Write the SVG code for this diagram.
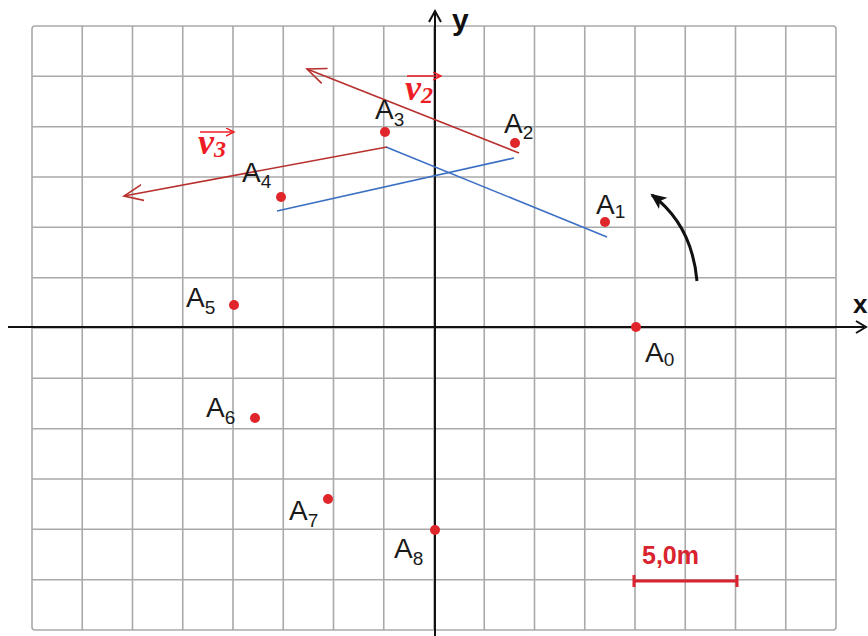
<svg xmlns="http://www.w3.org/2000/svg" width="868" height="636" viewBox="0 0 868 636">
<style>
.grid{stroke:#a9a9a9;stroke-width:1.6;fill:none}
.axis{stroke:#111;stroke-width:2;fill:none}
.lbl{font-family:"Liberation Sans","DejaVu Sans",sans-serif;font-size:28px;fill:#1a1a1a}
.sub{font-size:19px}
.dot{fill:#e0262a}
.vec{stroke:#b8302e;stroke-width:1.6;fill:none}
.blue{stroke:#3a6fc4;stroke-width:1.6;fill:none}
.vl{font-family:"Liberation Serif","DejaVu Serif",serif;font-style:italic;font-weight:bold;fill:#ee1c24}
</style>
<defs>
<marker id="open" markerWidth="24" markerHeight="24" refX="19" refY="10" orient="auto" markerUnits="userSpaceOnUse">
<path d="M0,2 L19,10 L0,18" fill="none" stroke="#b8302e" stroke-width="1.6"/>
</marker>
<marker id="blk" markerWidth="20" markerHeight="20" refX="14" refY="8" orient="auto" markerUnits="userSpaceOnUse">
<path d="M0,1 L16,8 L0,15 L4,8 Z" fill="#111"/>
</marker>
<marker id="small" markerWidth="10" markerHeight="10" refX="8" refY="4" orient="auto" markerUnits="userSpaceOnUse">
<path d="M0,0 L8,4 L0,8" fill="none" stroke="#ee1c24" stroke-width="1.4"/>
</marker>
</defs>
<rect width="868" height="636" fill="#fff"/>
<g id="grid" class="grid">
<rect x="32" y="26" width="804" height="604" rx="3"/>
<path d="M82.25,26V630M132.5,26V630M182.75,26V630M233,26V630M283.25,26V630M333.5,26V630M383.75,26V630M434,26V630M484.25,26V630M534.5,26V630M584.75,26V630M635,26V630M685.25,26V630M735.5,26V630M785.75,26V630"/>
<path d="M32,76.3H836M32,126.7H836M32,177H836M32,227.3H836M32,277.7H836M32,328H836M32,378.3H836M32,428.7H836M32,479H836M32,529.3H836M32,579.7H836"/>
</g>
<g id="axes">
<line class="axis" x1="8" y1="327" x2="864" y2="327"/>
<path d="M856,321 L866,327 L856,333" fill="none" stroke="#111" stroke-width="2"/>
<line class="axis" x1="435" y1="636" x2="435" y2="13"/>
<path d="M429,22 L435,11 L441,22" fill="none" stroke="#111" stroke-width="2"/>
<text x="452" y="30" style="font-family:'Liberation Sans',sans-serif;font-size:30px;font-weight:bold" fill="#111">y</text>
<text x="853" y="313" style="font-family:'Liberation Sans',sans-serif;font-size:26px;font-weight:bold" fill="#111">x</text>
</g>
<g id="connectors">
<line class="blue" x1="386" y1="147" x2="607" y2="237"/>
<line class="blue" x1="277" y1="211" x2="514" y2="158"/>
<line class="vec" x1="519" y1="153" x2="307" y2="69" marker-end="url(#open)"/>
<line class="vec" x1="387" y1="147" x2="124" y2="196" marker-end="url(#open)"/>
<path d="M697,281 Q692,225 652,195" fill="none" stroke="#111" stroke-width="3" marker-end="url(#blk)"/>
</g>
<g id="A0"><circle class="dot" cx="636" cy="327" r="5"/><text class="lbl" x="645" y="362">A<tspan class="sub" dy="4">0</tspan></text></g>
<g id="A1"><circle class="dot" cx="605" cy="222" r="5"/><text class="lbl" x="596" y="214">A<tspan class="sub" dy="4">1</tspan></text></g>
<g id="A2"><circle class="dot" cx="515" cy="143" r="5"/><text class="lbl" x="504" y="133">A<tspan class="sub" dy="6">2</tspan></text></g>
<g id="A3"><circle class="dot" cx="385" cy="132" r="5"/><text class="lbl" x="375" y="119">A<tspan class="sub" dy="7">3</tspan></text></g>
<g id="A4"><circle class="dot" cx="281" cy="197" r="5"/><text class="lbl" x="242" y="182">A<tspan class="sub" dy="6">4</tspan></text></g>
<g id="A5"><circle class="dot" cx="234" cy="305" r="5"/><text class="lbl" x="186" y="307">A<tspan class="sub" dy="7">5</tspan></text></g>
<g id="A6"><circle class="dot" cx="255" cy="418" r="5"/><text class="lbl" x="206" y="417">A<tspan class="sub" dy="7">6</tspan></text></g>
<g id="A7"><circle class="dot" cx="328" cy="499" r="5"/><text class="lbl" x="289" y="520">A<tspan class="sub" dy="7">7</tspan></text></g>
<g id="A8"><circle class="dot" cx="435" cy="530" r="5"/><text class="lbl" x="394" y="558">A<tspan class="sub" dy="7">8</tspan></text></g>
<g id="v2">
<text class="vl" x="405" y="100" font-size="36">v<tspan font-size="24" dy="3">2</tspan></text>
<line x1="407" y1="76" x2="441" y2="76" stroke="#ee1c24" stroke-width="1.4" marker-end="url(#small)"/>
</g>
<g id="v3">
<text class="vl" x="198" y="154" font-size="36">v<tspan font-size="24" dy="3">3</tspan></text>
<line x1="200" y1="132" x2="234" y2="132" stroke="#ee1c24" stroke-width="1.4" marker-end="url(#small)"/>
</g>
<g id="scale">
<text x="642" y="564" style="font-family:'Liberation Sans',sans-serif;font-size:25px;font-weight:bold" fill="#d9232e">5,0m</text>
<path d="M634,581H737M634,575V587M737,575V587" stroke="#d9232e" stroke-width="3" fill="none"/>
</g>
</svg>
